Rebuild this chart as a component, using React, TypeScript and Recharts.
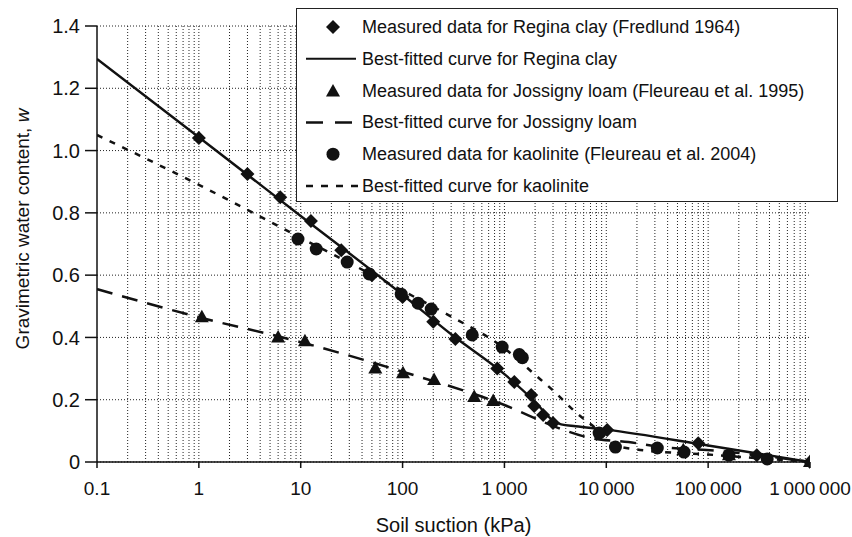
import {
  ComposedChart,
  Line,
  Scatter,
  XAxis,
  YAxis,
  CartesianGrid,
  ReferenceLine,
  Legend,
  Label,
} from "recharts";

const FONT = "'Liberation Sans', Arial, sans-serif";
const INK = "#111";

// measured data, Regina clay (Fredlund 1964)
const reginaSuction = [1, 3, 6.3, 12.6, 25, 50, 100, 200, 330, 850, 1250, 1830, 1960, 2400, 3000, 10200, 80000, 300000, 1000000];
const reginaW = [1.04, 0.925, 0.85, 0.774, 0.68, 0.6, 0.53, 0.45, 0.395, 0.3, 0.257, 0.215, 0.18, 0.151, 0.125, 0.103, 0.06, 0.022, 0];

// measured data, Jossigny loam (Fleureau et al. 1995)
const jossignySuction = [1.07, 6, 11, 54, 101, 204, 505, 776, 57000, 160000, 1000000];
const jossignyW = [0.465, 0.4, 0.388, 0.3, 0.285, 0.263, 0.209, 0.196, 0.038, 0.022, 0];

// measured data, kaolinite (Fleureau et al. 2004)
const kaoliniteSuction = [9.4, 14.2, 28.6, 47, 97, 142, 191, 483, 950, 1400, 1500, 8500, 12300, 31700, 58000, 160000, 380000];
const kaoliniteW = [0.716, 0.684, 0.642, 0.604, 0.539, 0.51, 0.491, 0.408, 0.369, 0.345, 0.335, 0.093, 0.048, 0.045, 0.032, 0.022, 0.01];

// best-fitted curves
const reginaFitSuction = [0.1, 1, 10, 100, 300, 1000, 2000, 3000, 3600, 5000, 10000, 100000, 1000000];
const reginaFitW = [1.294, 1.043, 0.79, 0.537, 0.41, 0.282, 0.193, 0.133, 0.121, 0.115, 0.104, 0.053, 0];

const jossignyFitSuction = [0.1, 1, 10, 100, 1000, 3400, 7000, 16500, 36000, 130000, 1000000];
const jossignyFitW = [0.555, 0.465, 0.385, 0.29, 0.183, 0.109, 0.077, 0.064, 0.048, 0.035, 0];

const kaoliniteFitSuction = [0.1, 1, 10, 100, 300, 1000, 2000, 3000, 5000, 9000, 12000, 20000, 100000, 1000000];
const kaoliniteFitW = [1.05, 0.89, 0.72, 0.55, 0.467, 0.365, 0.28, 0.23, 0.16, 0.093, 0.055, 0.04, 0.024, 0];

// axes (thin spaces as thousands separators)
const xTicks = [0.1, 1, 10, 100, 1000, 10000, 100000, 1000000];
const xTickLabels = ["0.1", "1", "10", "100", "1\u2009000", "10\u2009000", "100\u2009000", "1\u2009000\u2009000"];
const yTicks = [0, 0.2, 0.4, 0.6, 0.8, 1.0, 1.2, 1.4];
const yTickLabels = ["0", "0.2", "0.4", "0.6", "0.8", "1.0", "1.2", "1.4"];
const gridSteps = [1, 2, 3, 4, 5, 6, 7, 8, 9];

const toPoints = (xs: number[], ys: number[]) => xs.map((x, i) => ({ x, w: ys[i] }));

const regina = toPoints(reginaSuction, reginaW);
const jossigny = toPoints(jossignySuction, jossignyW);
const kaolinite = toPoints(kaoliniteSuction, kaoliniteW);
const reginaFit = toPoints(reginaFitSuction, reginaFitW);
const jossignyFit = toPoints(jossignyFitSuction, jossignyFitW);
const kaoliniteFit = toPoints(kaoliniteFitSuction, kaoliniteFitW);

const verticalGrid = xTicks.slice(0, -1).flatMap((d) => gridSteps.map((s) => d * s)).slice(1);

const Diamond = ({ cx, cy }: any) => (
  <polygon points={`${cx},${cy - 7} ${cx + 7},${cy} ${cx},${cy + 7} ${cx - 7},${cy}`} fill={INK} />
);
const Triangle = ({ cx, cy }: any) => (
  <polygon points={`${cx},${cy - 7.5} ${cx + 7},${cy + 5} ${cx - 7},${cy + 5}`} fill={INK} />
);
const Dot = ({ cx, cy }: any) => <circle cx={cx} cy={cy} r={6.5} fill={INK} />;

const legendRows = [
  { label: "Measured data for Regina clay (Fredlund 1964)", kind: "diamond" },
  { label: "Best-fitted curve for Regina clay", kind: "solid" },
  { label: "Measured data for Jossigny loam (Fleureau et al. 1995)", kind: "triangle" },
  { label: "Best-fitted curve for Jossigny loam", kind: "long" },
  { label: "Measured data for kaolinite (Fleureau et al. 2004)", kind: "circle" },
  { label: "Best-fitted curve for kaolinite", kind: "short" },
];

const LegendBox = () => (
  <svg width={542} height={194} style={{ display: "block", background: "#fff", border: "1px solid #222", boxSizing: "border-box" }}>
    {legendRows.map((r, i) => {
      const y = 18 + i * 31.8;
      let sym = null;
      if (r.kind === "diamond") sym = <Diamond cx={36} cy={y} />;
      if (r.kind === "triangle") sym = <Triangle cx={36} cy={y + 1} />;
      if (r.kind === "circle") sym = <Dot cx={36} cy={y} />;
      if (r.kind === "solid") sym = <line x1={9} x2={59} y1={y} y2={y} stroke={INK} strokeWidth={2} />;
      if (r.kind === "long") sym = <line x1={9} x2={59} y1={y} y2={y} stroke={INK} strokeWidth={2.5} strokeDasharray="17 12" />;
      if (r.kind === "short") sym = <line x1={9} x2={63} y1={y} y2={y} stroke={INK} strokeWidth={2.5} strokeDasharray="7 8" />;
      return (
        <g key={r.label}>
          {sym}
          <text x={65} y={y} dominantBaseline="central" fontFamily={FONT} fontSize={18} fill={INK}>
            {r.label}
          </text>
        </g>
      );
    })}
  </svg>
);

const YLabel = ({ viewBox }: any) => {
  const x = viewBox.x + 22;
  const y = viewBox.y + viewBox.height / 2 - 15;
  return (
    <text
      x={x}
      y={y}
      transform={`rotate(-90 ${x} ${y})`}
      textAnchor="middle"
      dominantBaseline="central"
      fontFamily={FONT}
      fontSize={19}
      fill={INK}
    >
      Gravimetric water content, <tspan fontStyle="italic">w</tspan>
    </text>
  );
};

const yTickStyle = { fontFamily: FONT, fontSize: 20, fill: INK };
const xTickStyle = { fontFamily: FONT, fontSize: 19, fill: INK };

export default function App() {
  return (
    <div style={{ position: "absolute", left: 0, top: 0, background: "#fff" }}>
      <ComposedChart width={852} height={537} margin={{ top: 26, right: 42, bottom: 0, left: 0 }}>
        <CartesianGrid vertical={false} stroke="#222" strokeDasharray="1 2" />
        {verticalGrid.map((v) => (
          <ReferenceLine key={v} x={v} stroke="#222" strokeDasharray="1 2" />
        ))}
        <XAxis
          dataKey="x"
          type="number"
          scale="log"
          domain={[0.1, 1000000]}
          ticks={xTicks}
          tickFormatter={(v) => xTickLabels[xTicks.indexOf(v)]}
          allowDataOverflow
          height={75}
          tickSize={6}
          tickMargin={14}
          tick={xTickStyle}
          stroke={INK}
          strokeWidth={1.5}
          interval={0}
        >
          <Label value="Soil suction (kPa)" position="insideBottom" offset={5} style={{ fontFamily: FONT, fontSize: 20, fill: INK }} />
        </XAxis>
        <XAxis
          xAxisId="top"
          dataKey="x"
          type="number"
          scale="log"
          domain={[0.1, 1000000]}
          orientation="top"
          height={0}
          tick={false}
          tickLine={false}
          stroke="#333"
          allowDataOverflow
        />
        <YAxis
          dataKey="w"
          type="number"
          domain={[0, 1.4]}
          ticks={yTicks}
          tickFormatter={(v) => yTickLabels[yTicks.indexOf(v)]}
          width={97}
          tickSize={12}
          tickMargin={5}
          tick={yTickStyle}
          stroke={INK}
          strokeWidth={1.5}
          interval={0}
        >
          <Label content={<YLabel />} />
        </YAxis>
        <YAxis yAxisId="right" orientation="right" width={0} domain={[0, 1.4]} tick={false} tickLine={false} stroke="#333" />
        <Legend
          layout="horizontal"
          verticalAlign="middle"
          align="center"
          content={<LegendBox />}
          wrapperStyle={{ left: 296, top: 8, width: 542, height: 194 }}
        />
        <Line data={reginaFit} dataKey="w" type="monotone" stroke={INK} strokeWidth={2.4} dot={false} isAnimationActive={false} />
        <Line data={jossignyFit} dataKey="w" type="monotone" stroke={INK} strokeWidth={2.5} strokeDasharray="16 10" dot={false} isAnimationActive={false} />
        <Line data={kaoliniteFit} dataKey="w" type="monotone" stroke={INK} strokeWidth={2.5} strokeDasharray="6 8" dot={false} isAnimationActive={false} />
        <Scatter data={regina} dataKey="w" shape={<Diamond />} isAnimationActive={false} />
        <Scatter data={jossigny} dataKey="w" shape={<Triangle />} isAnimationActive={false} />
        <Scatter data={kaolinite} dataKey="w" shape={<Dot />} isAnimationActive={false} />
      </ComposedChart>
    </div>
  );
}
